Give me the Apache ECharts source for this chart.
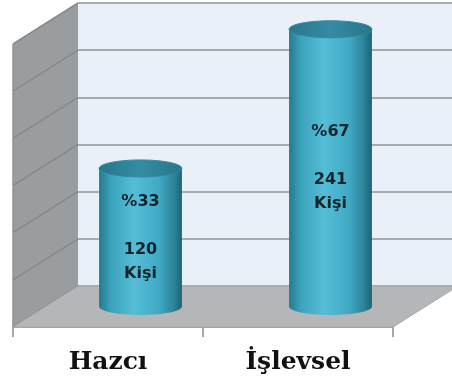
<!DOCTYPE html>
<html>
<head>
<meta charset="utf-8">
<script src="https://cdn.jsdelivr.net/npm/echarts@6/dist/echarts.min.js"></script>
<style>
  html, body { margin: 0; padding: 0; background: #fff; }
  #chart { width: 452px; height: 382px; }
</style>
</head>
<body>
<div id="chart"></div>
<script>
const categories = ["Hazcı", "İşlevsel"];
const people = [120, 241];
const shares = [33, 67];
const axisMax = 246;
const axisStep = 41;

// oblique depth of the 3D box (back plane offset from front plane)
const DX = 65;
const DY = -41;

const chart = echarts.init(document.getElementById("chart"));

const bodyGrad = () => new echarts.graphic.LinearGradient(0, 0, 1, 0, [
  { offset: 0, color: "#257a8e" },
  { offset: 0.14, color: "#3ba2bb" },
  { offset: 0.42, color: "#56bdd7" },
  { offset: 0.72, color: "#40aac4" },
  { offset: 0.9, color: "#2b859b" },
  { offset: 1, color: "#1e6373" },
]);

const topGrad = () => new echarts.graphic.LinearGradient(0, 0, 1, 0, [
  { offset: 0, color: "#28768a" },
  { offset: 0.5, color: "#348ca3" },
  { offset: 1, color: "#28758a" },
]);

const renderFrame = (params, api) => {
  const cs = params.coordSys;
  const x0 = cs.x, x1 = cs.x + cs.width;
  const yTop = cs.y, yBot = cs.y + cs.height;
  const children = [];

  // left side wall
  children.push({
    type: "polygon",
    shape: { points: [[x0, yTop], [x0 + DX, yTop + DY], [x0 + DX, yBot + DY], [x0, yBot]] },
    style: { fill: "#9a9d9f" },
  });
  // diagonal grid lines on the side wall
  for (let v = 0; v <= axisMax; v += axisStep) {
    const y = api.coord([0, v])[1];
    children.push({
      type: "line",
      shape: { x1: x0, y1: y, x2: x0 + DX, y2: y + DY },
      style: { stroke: "#878a8c", lineWidth: 1.5 },
    });
  }
  // floor
  children.push({
    type: "polygon",
    shape: { points: [[x0, yBot], [x0 + DX, yBot + DY], [x1 + DX, yBot + DY], [x1, yBot]] },
    style: { fill: "#b4b6b8", stroke: "#a3a5a7", lineWidth: 1 },
  });
  children.push({
    type: "line",
    shape: { x1: x0, y1: yTop, x2: x0, y2: yBot },
    style: { stroke: "#8f9294", lineWidth: 1.5 },
  });
  return { type: "group", children };
};

const renderCylinder = (params, api) => {
  const i = api.value(0);
  const v = api.value(1);
  const top = api.coord([i, v]);
  const base = api.coord([i, 0]);
  const cx = top[0] + DX / 2;
  const ty = top[1] + DY / 2;
  const by = base[1] + DY / 2;
  const rx = api.size([1, 0])[0] * 0.218;
  const ry = 8.5;
  return {
    type: "group",
    children: [
      { type: "ellipse", shape: { cx, cy: by, rx, ry }, style: { fill: bodyGrad() } },
      { type: "rect", shape: { x: cx - rx, y: ty, width: 2 * rx, height: by - ty }, style: { fill: bodyGrad() } },
      { type: "ellipse", shape: { cx, cy: ty, rx, ry }, style: { fill: topGrad(), stroke: "#2f8aa0", lineWidth: 1 } },
      {
        type: "text",
        style: {
          text: "%" + shares[i] + "\n\n" + people[i] + "\nKişi",
          x: cx,
          y: (ty + by) / 2,
          align: "center",
          verticalAlign: "middle",
          fill: "#15252c",
          font: "bold 16px 'DejaVu Sans'",
          lineHeight: 24,
        },
      },
    ],
  };
};

chart.setOption({
  animation: false,
  backgroundColor: "#ffffff",
  grid: [
    { left: 13, top: 44, width: 380, height: 283 },
    { left: 13 + DX, top: 44 + DY, width: 380, height: 283, show: true, backgroundColor: "#e9f0f8", borderWidth: 0 },
  ],
  xAxis: [
    {
      type: "category",
      gridIndex: 0,
      data: categories,
      axisLine: { show: true, lineStyle: { color: "#a6a8aa", width: 2 } },
      axisTick: { show: true, length: 10, lineStyle: { color: "#a6a8aa", width: 2 } },
      axisLabel: {
        margin: 23,
        color: "#111111",
        fontFamily: "DejaVu Serif",
        fontWeight: "bold",
        fontSize: 25,
      },
    },
    { type: "category", gridIndex: 1, data: categories, show: false },
  ],
  yAxis: [
    { type: "value", gridIndex: 0, min: 0, max: axisMax, interval: axisStep, show: false },
    {
      type: "value",
      gridIndex: 1,
      min: 0,
      max: axisMax,
      interval: axisStep,
      axisLine: { show: false },
      axisTick: { show: false },
      axisLabel: { show: false },
      splitLine: { show: true, lineStyle: { color: "#a9abad", width: 2 } },
    },
  ],
  series: [
    {
      type: "custom",
      name: "frame",
      xAxisIndex: 0,
      yAxisIndex: 0,
      data: [[0, 0]],
      renderItem: renderFrame,
      silent: true,
      z: 1,
    },
    {
      type: "custom",
      name: "Kişi",
      xAxisIndex: 0,
      yAxisIndex: 0,
      data: people.map((p, i) => [i, p]),
      renderItem: renderCylinder,
      z: 3,
    },
  ],
});
</script>
</body>
</html>
